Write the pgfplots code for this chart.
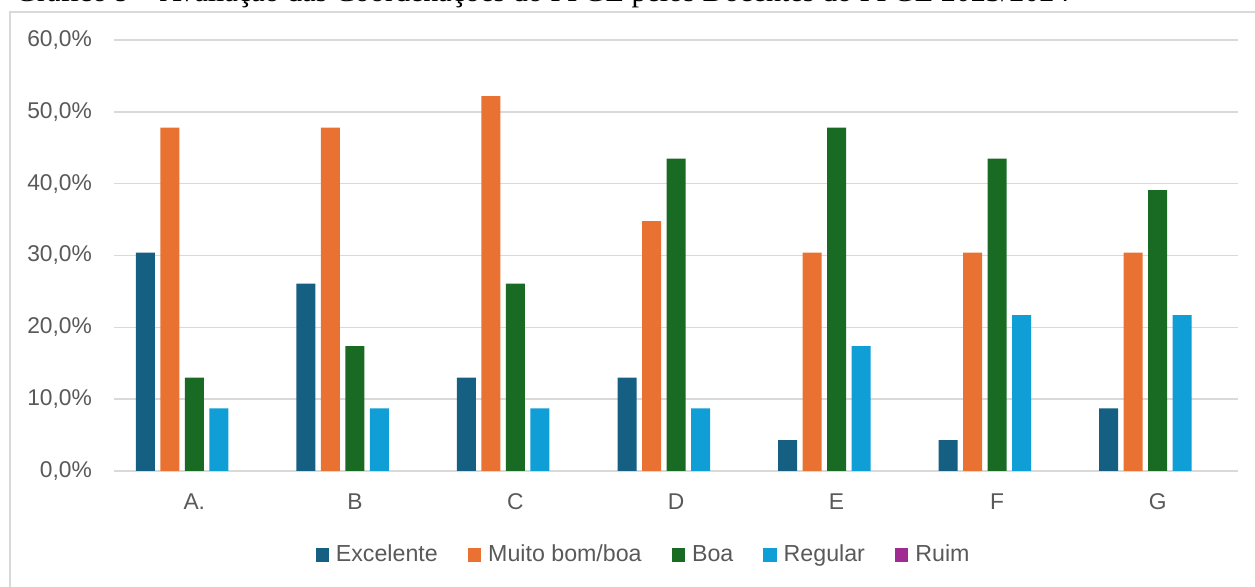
\documentclass[border=0pt]{standalone}
\usepackage{pgfplots}
\pgfplotsset{compat=1.18}
\usepackage{fontspec}
\setmainfont{Liberation Sans}
\newfontfamily\titlefont{Liberation Serif}

\definecolor{cExc}{HTML}{156082}
\definecolor{cMuito}{HTML}{E97132}
\definecolor{cBoa}{HTML}{196B24}
\definecolor{cReg}{HTML}{0F9ED5}
\definecolor{cRuim}{HTML}{A02B93}
\definecolor{gridgray}{HTML}{D9D9D9}
\definecolor{labelgray}{HTML}{595959}
\definecolor{framegray}{HTML}{D9D9D9}

% percentages per coordination (A. .. G); Ruim has no answers
\pgfplotstableread{
x exc  muito boa  reg  ruim
0 30.4 47.8  13.0 8.7  0
1 26.1 47.8  17.4 8.7  0
2 13.0 52.2  26.1 8.7  0
3 13.0 34.8  43.5 8.7  0
4 4.3  30.4  47.8 17.4 0
5 4.3  30.4  43.5 21.7 0
6 8.7  30.4  39.1 21.7 0
}\coord

\begin{document}
\begin{tikzpicture}
\useasboundingbox (0,0) rectangle (627.5pt,293.5pt);
% caption line, partly above the page
\node[anchor=base west, inner sep=0pt] at (7.5pt,292.6pt)
  {\resizebox{527pt}{!}{\titlefont Gráfico 9 – Avaliação das Coordenações do PPGE pelos Docentes do PPGE 2023/2024}};
% chart frame
\draw[framegray, line width=0.6pt] (5pt,-10pt) -- (5pt,287.5pt) -- (700pt,287.5pt);
\begin{axis}[
  at={(57pt,58pt)}, anchor=south west,
  scale only axis, width=562pt, height=215.5pt,
  ymin=0, ymax=60, ytick={0,10,...,60},
  xmin=-0.5, xmax=6.5, xtick=data, xticklabels={A.,B,C,D,E,F,G},
  ybar=2.75pt, bar width=9.5pt,
  axis line style={draw=none}, major tick length=0pt,
  ymajorgrids, grid style={color=gridgray, line width=0.75pt},
  /pgf/number format/assume math mode=true,
  tick label style={font=\fontsize{11.4}{13}\selectfont, text=labelgray},
  yticklabel={\pgfmathprintnumber[fixed,fixed zerofill,precision=1,use comma]{\tick}\%},
  yticklabel style={xshift=-7.5pt},
  xticklabel style={yshift=-8pt},
  legend columns=5,
  legend style={at={(0.472,-0.195)}, anchor=center, draw=none, fill=none,
    font=\fontsize{11.6}{13}\selectfont, text=labelgray,
    /tikz/every even column/.append style={column sep=13pt},
    /tikz/every odd column/.append style={column sep=1.5pt}},
  legend image code/.code={\fill (0pt,-3.4pt) rectangle (6.7pt,3.4pt);},
]
\addplot[fill=cExc, draw=none] table[x=x,y=exc] {\coord};
\addlegendentry{Excelente}
\addplot[fill=cMuito, draw=none] table[x=x,y=muito] {\coord};
\addlegendentry{Muito bom/boa}
\addplot[fill=cBoa, draw=none] table[x=x,y=boa] {\coord};
\addlegendentry{Boa}
\addplot[fill=cReg, draw=none] table[x=x,y=reg] {\coord};
\addlegendentry{Regular}
% zero-height bars stay invisible; only the key shows the colour
\addplot[fill=cRuim, draw=none, fill opacity=0,
  legend image code/.code={\fill[cRuim, fill opacity=1] (0pt,-3.4pt) rectangle (6.7pt,3.4pt);}]
  table[x=x,y=ruim] {\coord};
\addlegendentry{Ruim}
\end{axis}
\end{tikzpicture}
\end{document}
